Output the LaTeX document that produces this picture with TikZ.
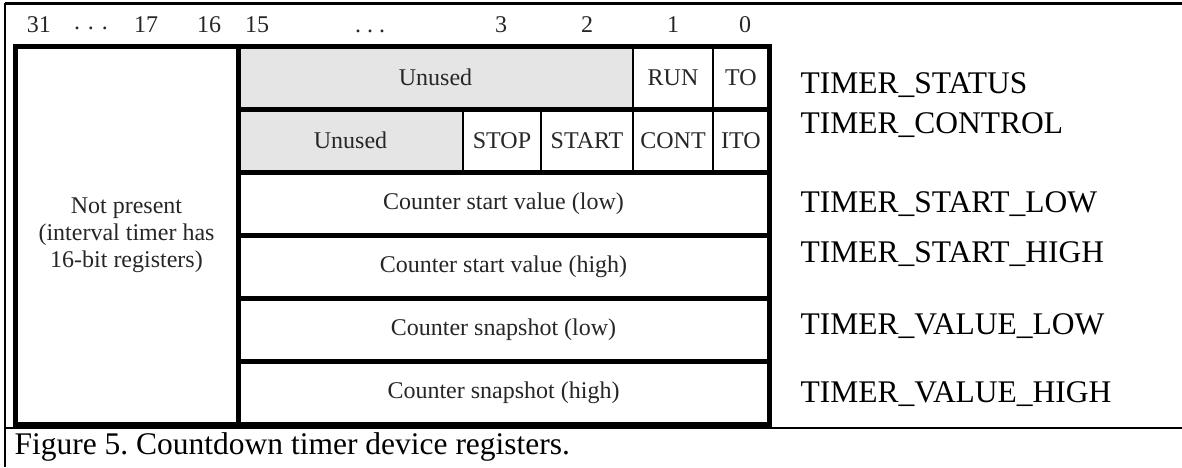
\documentclass[tikz,border=0pt]{standalone}
\usepackage{fontspec}
\setmainfont{Liberation Serif}
\usetikzlibrary{positioning}

\begin{document}
\begin{tikzpicture}[
  x=1pt, y=-1pt,
  cellfont/.style={font=\fontsize{24}{27}\selectfont, text=black!85},
  bigfont/.style={font=\fontsize{31.5}{36}\selectfont\frenchspacing},
  cell/.style={draw, line width=2.5pt, cellfont, inner sep=0pt, outer sep=0pt, minimum height=63pt},
  unused/.style={cell, fill=black!10},
  reg/.style={cell, line width=5pt, minimum width=531pt},
  frame/.style={draw, line width=5pt, line join=miter},
  bitno/.style={cellfont, anchor=base},
  regname/.style={bigfont, anchor=base west},
]
\useasboundingbox (0,0) rectangle (1182,467);

% page frame
\draw[line width=3pt] (5,3) -- (1182,3);
\draw[line width=1.5pt] (5,3) -- (5,467);
\draw[line width=2.5pt] (5,428) -- (1182,428);

% bit numbers
\foreach \x/\t [count=\i] in {39/31, 91/{\raisebox{2.5pt}{.\hspace{8pt}.\hspace{8pt}.}}, 146/17, 209/16, 257/15,
    370/{.\hspace{6pt}.\hspace{6pt}.}, 501/3, 587/2, 673/1, 745/0}
  \node[bitno] (bit\i) at (\x,32) {\t};

% upper half
\node[cell, line width=5pt, minimum width=223pt, minimum height=378pt, align=center] (np) at (126.5,235)
  {Not present\\(interval timer has\\16-bit registers)};

% status register
\node[unused, minimum width=395pt] (st-unused) at (435.5,77.5) {Unused};
\node[cell, minimum width=80pt, right=0pt of st-unused] (st-run) {RUN};
\node[cell, minimum width=56pt, right=0pt of st-run] (st-to) {TO};

% control register
\node[unused, minimum width=225pt] (ct-unused) at (350.5,140.5) {Unused};
\node[cell, minimum width=78pt, right=0pt of ct-unused] (ct-stop) {STOP};
\node[cell, minimum width=92pt, right=0pt of ct-stop] (ct-start) {START};
\node[cell, minimum width=80pt, right=0pt of ct-start] (ct-cont) {CONT};
\node[cell, minimum width=56pt, right=0pt of ct-cont] (ct-ito) {ITO};

\draw[frame] (st-unused.north west) rectangle (st-to.south east);
\draw[frame] (ct-unused.north west) rectangle (ct-ito.south east);

% counter registers
\node[reg] (start-lo) at (503.5,203.5) {Counter start value (low)};
\node[reg, below=0pt of start-lo] (start-hi) {Counter start value (high)};
\node[reg, below=0pt of start-hi] (snap-lo) {Counter snapshot (low)};
\node[reg, below=0pt of snap-lo] (snap-hi) {Counter snapshot (high)};

% register names
\node[regname] (n-status) at (797,93) {TIMER\_STATUS};
\node[regname] (n-control) at (797,133) {TIMER\_CONTROL};
\node[regname] (n-startlo) at (797,212) {TIMER\_START\_LOW};
\node[regname] (n-starthi) at (797,262) {TIMER\_START\_HIGH};
\node[regname] (n-valuelo) at (797,334) {TIMER\_VALUE\_LOW};
\node[regname] (n-valuehi) at (797,402) {TIMER\_VALUE\_HIGH};

% caption
\node[regname] (caption) at (11,454) {Figure 5. Countdown timer device registers.};
\end{tikzpicture}
\end{document}
